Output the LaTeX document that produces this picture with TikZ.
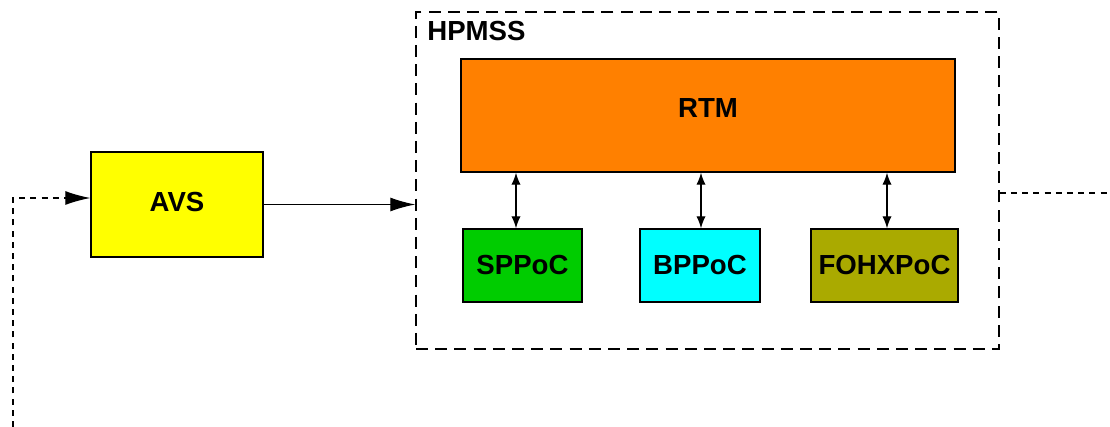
\documentclass[tikz,border=0pt]{standalone}
\usepackage{fontspec}
\setmainfont{Liberation Sans}
\usetikzlibrary{arrows.meta,positioning}
\definecolor{avsyellow}{RGB}{255,255,0}
\definecolor{rtmorange}{RGB}{255,128,0}
\definecolor{spgreen}{RGB}{0,204,0}
\definecolor{bpcyan}{RGB}{0,255,255}
\definecolor{fohxolive}{RGB}{170,170,0}
\begin{document}
\begin{tikzpicture}[x=.5pt,y=-.5pt,blk/.style={draw=black,line width=.7pt,inner sep=0pt,font=\fontsize{13.8}{16}\selectfont\bfseries},frame/.style={draw=black,line width=.75pt,dash pattern=on 6pt off 3.6pt,inner sep=0pt,minimum width=291.5pt,minimum height=168.5pt},fwd/.style={-{Latex[length=12.5pt,width=7pt]},line width=.6pt},bi/.style={{Latex[length=6pt,width=4.6pt]}-{Latex[length=6pt,width=4.6pt]},line width=.6pt},loop/.style={line width=.6pt,dash pattern=on 3pt off 2.6pt}]
\useasboundingbox (0,0) rectangle (1110,427);

\node[frame] (hpmss) at(707.5,180.5) {};
\node[anchor=north west,inner sep=0pt,font=\fontsize{13.8}{16}\selectfont\bfseries] (hpmsslbl) at(427,21) {HPMSS};

\node[blk,fill=avsyellow,minimum width=86pt,minimum height=52.5pt,text depth=3pt] (avs) at(177,204.5) {AVS};
\node[blk,fill=rtmorange,minimum width=247pt,minimum height=56.5pt,text depth=7pt] (rtm) at(708,115.5) {RTM};
\node[blk,fill=spgreen,minimum width=59.5pt,minimum height=36.5pt] (sppoc) at(522.5,265.5) {SPPoC};
\node[blk,fill=bpcyan,minimum width=60pt,minimum height=36.5pt] (bppoc) at(700,265.5) {BPPoC};
\node[blk,fill=fohxolive,minimum width=73.5pt,minimum height=36.5pt] (fohx) at(884.5,265.5) {FOHXPoC};

\coordinate (fbin) at(13,427);
\coordinate (out) at(1110,193);

\draw[fwd] (avs.east) -- (avs.east -| hpmss.west);
\draw[bi] (rtm.south -| 516,0) -- (sppoc.north -| 516,0);
\draw[bi] (rtm.south -| 701,0) -- (bppoc.north -| 701,0);
\draw[bi] (rtm.south -| 887,0) -- (fohx.north -| 887,0);
\draw[loop] (hpmss.east |- out) -- (out);
\draw[loop,-{Latex[length=12.5pt,width=7pt]}] (fbin) |- ([yshift=3.25pt]avs.west);
\end{tikzpicture}
\end{document}
